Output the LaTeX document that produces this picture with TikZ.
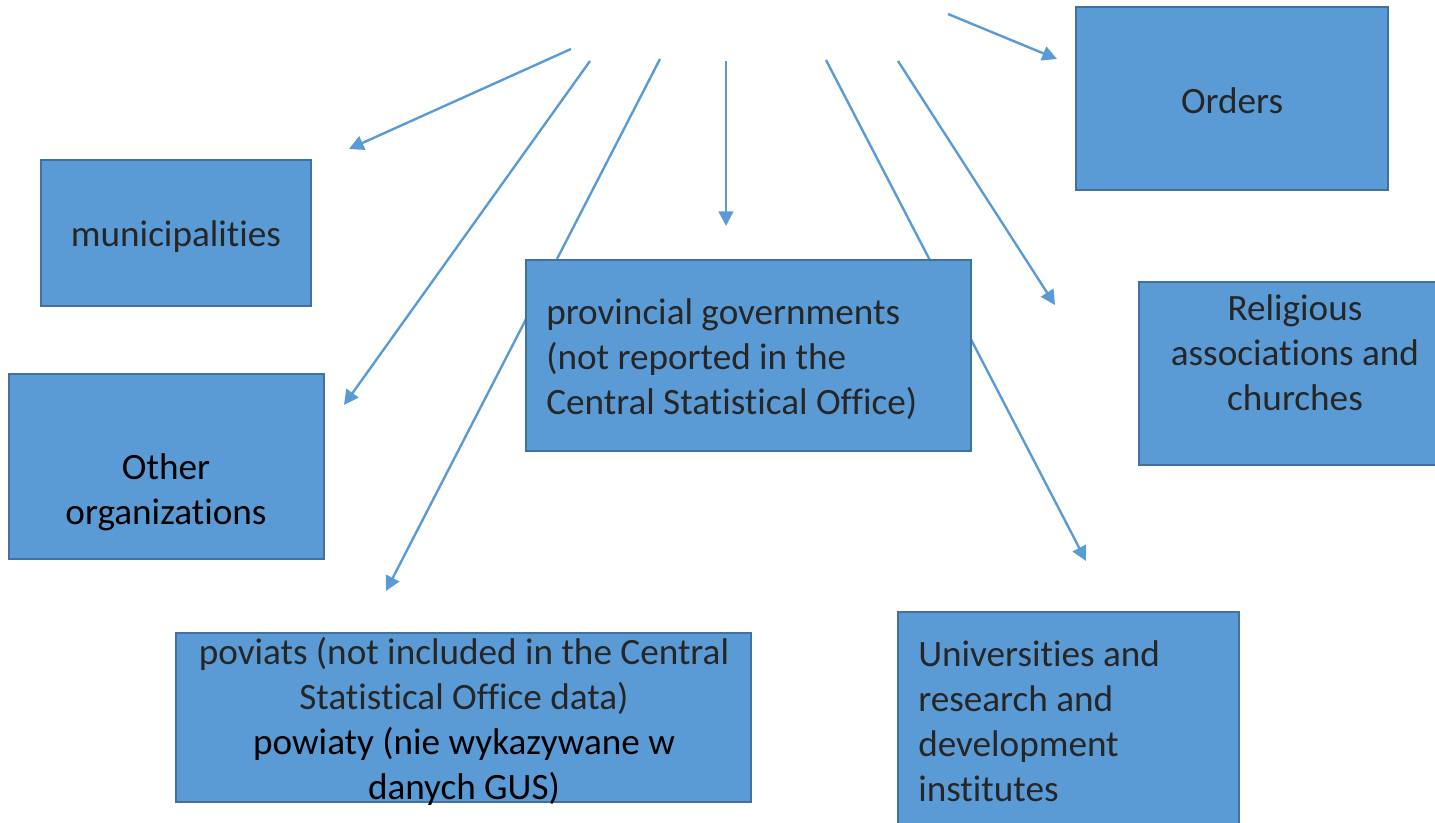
\documentclass[tikz,border=0pt]{standalone}
\usepackage{fontspec}
\setmainfont{Carlito}[RawFeature={-liga;-clig;-calt;-dlig;-ccmp;-rlig}]
\usetikzlibrary{arrows.meta}
\definecolor{boxfill}{HTML}{5B9BD5}
\definecolor{boxline}{HTML}{41719C}
\definecolor{txt}{HTML}{262626}
\begin{document}
\begin{tikzpicture}[x=0.75pt,y=-0.75pt,
  box/.style={draw=boxline, line width=1.5pt, fill=boxfill, inner sep=0pt, rectangle},
  lbl/.style={text=txt, font=\fontsize{27.9}{33.75}\selectfont, inner sep=0pt},
  conn/.style={draw=boxfill, line width=1.8pt, -{Triangle[length=11pt,width=11pt]}}]
\useasboundingbox (0,0) rectangle (1435,823);
\clip (0,0) rectangle (1435,823);
% connector end points
\coordinate (s1) at (571,49);  \coordinate (e1) at (349,149);
\coordinate (s2) at (590,61);  \coordinate (e2) at (344,405);
\coordinate (s3) at (660,59);  \coordinate (e3) at (386,591);
\coordinate (s4) at (726,61);  \coordinate (e4) at (726,226);
\coordinate (s5) at (826,60);  \coordinate (e5) at (1086,561);
\coordinate (s6) at (898,61);  \coordinate (e6) at (1055,305);
\coordinate (s7) at (948,14);  \coordinate (e7) at (1057,59);
\draw[conn] (s1) -- (e1);
\draw[conn] (s2) -- (e2);
\draw[conn] (s3) -- (e3);
\draw[conn] (s4) -- (e4);
\draw[conn] (s5) -- (e5);
\draw[conn] (s6) -- (e6);
\draw[conn] (s7) -- (e7);
% boxes
\node[box, minimum width=202.5pt, minimum height=109.5pt] (mun) at (176,233) {};
\node[box, minimum width=236.25pt, minimum height=138.75pt] (oth) at (166.5,466.5) {};
\node[box, minimum width=333.75pt, minimum height=143.25pt] (prov) at (748.5,355.5) {};
\node[box, minimum width=431.25pt, minimum height=126.75pt] (pov) at (463.5,717.5) {};
\node[box, minimum width=234pt, minimum height=137.25pt] (ord) at (1232,98.5) {};
\node[box, minimum width=233.25pt, minimum height=137.25pt] (rel) at (1294.5,373.5) {};
\node[box, minimum width=255.75pt, minimum height=171pt] (uni) at (1068.5,726) {};
% texts
\node[lbl] (tmun) at (176,237) {municipalities};
\node[lbl, align=center, text=black] (toth) at (166,492) {Other\\organizations};
\node[lbl, align=left, anchor=west] (tprov) at (546,359) {provincial governments\\(not reported in the\\Central Statistical Office)};
\node[lbl, align=center] (tpov) at (464,721) {poviats (not included in the Central\\Statistical Office data)\\\textcolor{black}{powiaty (nie wykazywane w}\\\textcolor{black}{danych GUS)}};
\node[lbl] (tord) at (1232,101) {Orders};
\node[lbl, align=center] (trel) at (1295,353) {Religious\\associations and\\churches};
\node[lbl, align=left, anchor=west] (tuni) at (918,721) {Universities and\\research and\\development\\institutes};
\end{tikzpicture}
\end{document}
